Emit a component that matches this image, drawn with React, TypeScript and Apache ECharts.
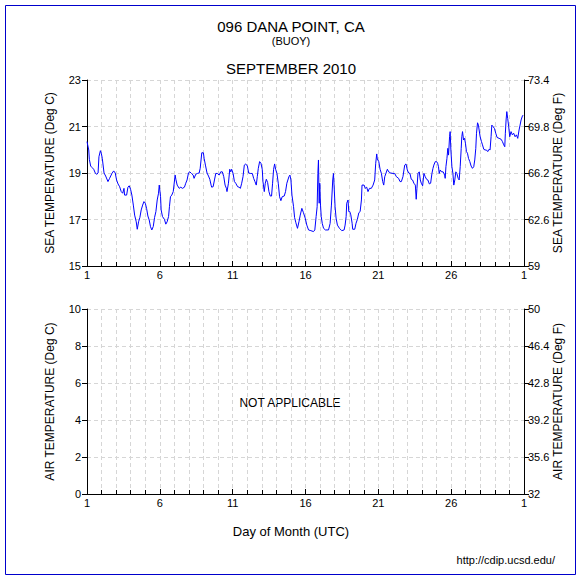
import React, { useEffect, useRef } from "react";
import * as echarts from "echarts";

const stationTitle = "096 DANA POINT, CA";
const stationType = "(BUOY)";
const monthTitle = "SEPTEMBER 2010";

const dayOfMonth = [
  1.0, 1.12, 1.16, 1.25, 1.34, 1.46, 1.57, 1.66, 1.76, 1.82, 1.92, 1.98, 2.05, 2.17, 2.28, 2.44, 2.55, 2.71, 2.83, 2.94,
  3.03, 3.13, 3.24, 3.35, 3.45, 3.54, 3.58, 3.72, 3.81, 3.9, 3.99, 4.08, 4.18, 4.27, 4.38, 4.45, 4.54, 4.63, 4.72, 4.82,
  4.91, 5.0, 5.09, 5.18, 5.27, 5.36, 5.45, 5.55, 5.64, 5.73, 5.82, 5.91, 5.96, 6.05, 6.09, 6.18, 6.32, 6.41, 6.5, 6.6,
  6.66, 6.73, 6.82, 6.92, 7.05, 7.1, 7.19, 7.33, 7.44, 7.55, 7.69, 7.78, 7.87, 7.97, 8.06, 8.17, 8.29, 8.35, 8.47, 8.58,
  8.7, 8.77, 8.83, 8.88, 8.99, 9.04, 9.13, 9.24, 9.34, 9.43, 9.52, 9.56, 9.66, 9.75, 9.84, 9.95, 10.07, 10.18, 10.29, 10.39,
  10.48, 10.57, 10.61, 10.71, 10.8, 10.87, 10.93, 11.03, 11.12, 11.21, 11.34, 11.44, 11.53, 11.62, 11.71, 11.8, 11.89, 12.01, 12.1, 12.23,
  12.35, 12.44, 12.53, 12.62, 12.69, 12.76, 12.85, 12.94, 13.03, 13.08, 13.17, 13.24, 13.31, 13.4, 13.49, 13.58, 13.67, 13.74, 13.81, 13.88,
  13.95, 14.04, 14.13, 14.22, 14.31, 14.4, 14.54, 14.63, 14.72, 14.86, 14.93, 15.0, 15.07, 15.18, 15.25, 15.34, 15.45, 15.55, 15.64, 15.75,
  15.86, 15.98, 16.09, 16.21, 16.37, 16.55, 16.64, 16.73, 16.8, 16.85, 16.89, 16.94, 16.98, 17.03, 17.08, 17.15, 17.24, 17.37, 17.58, 17.69,
  17.78, 17.87, 17.92, 17.96, 18.03, 18.1, 18.19, 18.33, 18.49, 18.65, 18.72, 18.79, 18.83, 18.92, 18.97, 19.04, 19.11, 19.2, 19.24, 19.38,
  19.47, 19.56, 19.66, 19.75, 19.84, 19.88, 20.02, 20.11, 20.2, 20.29, 20.39, 20.52, 20.64, 20.75, 20.82, 20.89, 20.93, 21.03, 21.12, 21.21,
  21.3, 21.37, 21.44, 21.53, 21.62, 21.71, 21.85, 22.01, 22.12, 22.24, 22.39, 22.49, 22.58, 22.69, 22.81, 22.9, 22.99, 23.08, 23.17, 23.26,
  23.35, 23.44, 23.54, 23.6, 23.65, 23.72, 23.81, 23.88, 23.95, 24.04, 24.13, 24.22, 24.31, 24.4, 24.5, 24.59, 24.68, 24.75, 24.81, 24.91,
  25.0, 25.07, 25.13, 25.18, 25.25, 25.34, 25.45, 25.55, 25.59, 25.64, 25.71, 25.77, 25.82, 25.89, 25.93, 25.98, 26.05, 26.12, 26.18, 26.25,
  26.32, 26.39, 26.48, 26.55, 26.62, 26.69, 26.73, 26.78, 26.85, 26.92, 26.98, 27.05, 27.12, 27.19, 27.28, 27.37, 27.46, 27.55, 27.62, 27.69,
  27.74, 27.81, 27.87, 27.92, 27.99, 28.08, 28.15, 28.24, 28.33, 28.42, 28.51, 28.6, 28.67, 28.74, 28.79, 28.88, 28.97, 29.06, 29.15, 29.29,
  29.43, 29.52, 29.61, 29.68, 29.72, 29.77, 29.82, 29.88, 29.95, 30.02, 30.11, 30.2, 30.29, 30.39, 30.48, 30.57, 30.66, 30.73, 30.8, 30.89,
  30.94,
];

const seaTempC = [
  20.35, 19.99, 19.59, 19.3, 19.24, 19.16, 19.0, 18.94, 19.0, 19.7, 19.96, 19.85, 19.63, 19.0, 18.87, 18.63, 18.77, 18.98, 19.09, 19.0,
  18.7, 18.53, 18.41, 18.2, 18.13, 18.34, 18.05, 18.05, 18.39, 18.45, 18.3, 18.05, 17.62, 17.19, 16.9, 16.58, 16.9, 17.09, 17.41, 17.62,
  17.77, 17.7, 17.48, 17.15, 16.98, 16.69, 16.55, 16.7, 17.09, 17.34, 17.84, 18.13, 18.48, 17.98, 17.41, 17.13, 17.0, 16.8, 16.9, 17.13,
  17.55, 17.98, 18.05, 18.2, 18.91, 18.73, 18.48, 18.34, 18.39, 18.34, 18.39, 18.56, 18.7, 19.01, 19.05, 18.98, 18.91, 18.77, 18.95, 18.98,
  19.0, 19.2, 19.56, 19.87, 19.87, 19.63, 19.34, 19.0, 18.87, 18.73, 18.48, 18.39, 18.41, 18.7, 18.98, 18.98, 18.91, 19.05, 19.05, 18.84,
  18.48, 18.34, 18.2, 18.56, 19.16, 19.05, 19.16, 18.98, 18.63, 18.56, 18.41, 18.39, 18.34, 18.56, 18.84, 19.34, 19.39, 19.3, 19.0, 18.98,
  18.98, 18.77, 18.63, 18.48, 18.84, 19.2, 19.49, 19.42, 19.16, 18.63, 18.2, 18.56, 18.73, 18.59, 18.2, 18.01, 18.01, 18.56, 19.16, 19.39,
  19.16, 18.98, 18.56, 17.98, 17.81, 17.98, 18.01, 18.2, 18.56, 18.84, 18.91, 18.7, 18.05, 17.55, 17.09, 16.86, 16.62, 16.9, 17.19, 17.48,
  17.29, 17.06, 16.76, 16.55, 16.52, 16.48, 16.55, 17.13, 17.55, 18.98, 19.56, 17.7, 18.56, 17.62, 17.13, 16.83, 16.62, 16.55, 16.55, 16.83,
  17.62, 18.7, 18.98, 18.48, 17.55, 17.06, 16.76, 16.62, 16.52, 16.55, 16.76, 17.13, 17.7, 17.84, 17.34, 17.34, 17.2, 16.84, 16.58, 16.58,
  16.84, 17.0, 17.29, 17.34, 17.84, 18.48, 18.48, 18.34, 18.39, 18.2, 18.34, 18.34, 18.48, 18.7, 19.42, 19.82, 19.6, 19.49, 19.16, 18.98,
  18.63, 18.48, 18.84, 19.0, 19.16, 19.05, 19.0, 18.98, 18.98, 18.84, 18.77, 18.63, 18.63, 18.84, 19.34, 19.39, 19.13, 19.0, 18.98, 18.73,
  18.7, 18.56, 18.48, 17.87, 18.34, 18.98, 19.05, 18.7, 18.56, 18.45, 18.98, 18.84, 18.73, 18.7, 18.53, 18.56, 18.98, 19.2, 19.34, 19.49,
  19.49, 19.42, 19.27, 18.98, 19.13, 19.05, 19.05, 18.91, 18.77, 19.27, 19.63, 20.06, 19.77, 20.56, 20.78, 19.99, 19.27, 18.98, 18.48, 18.7,
  19.05, 18.98, 18.77, 18.7, 19.27, 20.06, 20.56, 20.78, 20.42, 20.49, 20.28, 19.92, 19.85, 19.63, 19.49, 19.3, 19.2, 19.27, 19.56, 20.06,
  20.71, 21.16, 21.06, 20.85, 20.56, 20.35, 20.21, 20.02, 19.99, 19.99, 19.92, 20.02, 19.99, 20.56, 21.06, 20.99, 20.92, 20.71, 20.53, 20.49,
  20.45, 20.35, 20.21, 20.13, 20.71, 21.28, 21.64, 21.35, 20.99, 20.56, 20.78, 20.64, 20.71, 20.56, 20.64, 20.49, 20.85, 21.06, 21.28, 21.45,
  21.49,
];

const seaTicksC = { min: 15, max: 23, step: 2 };
const airTicksC = { min: 0, max: 10, step: 2 };
const dayTicks = { min: 1, max: 31, step: 5 };

const FONT = "'Liberation Sans', Arial, Helvetica, sans-serif";
const GRID_COLOR = "#d6d6d6";

function toF(v: number): string {
  const f = v * 1.8 + 32;
  return String(Math.round(f * 10) / 10);
}

function dayLabel(v: number): string {
  return v === 31 ? "1" : String(v);
}

export default function App() {
  const ref = useRef<HTMLDivElement>(null);

  useEffect(() => {
    document.body.style.margin = "0";
    if (!ref.current) return;
    const chart = echarts.init(ref.current, undefined, { renderer: "svg" });

    const xAxisBase = (gridIndex: number) => ({
      type: "value",
      gridIndex,
      min: dayTicks.min,
      max: dayTicks.max,
      interval: dayTicks.step,
      axisLine: { show: true, onZero: false, lineStyle: { color: "#000", width: 1 } },
      axisTick: { show: true, inside: true, length: 5, lineStyle: { color: "#000" } },
      minorTick: { show: true, splitNumber: 5, length: 4, lineStyle: { color: "#000" } },
      splitLine: { show: true, lineStyle: { color: GRID_COLOR, type: [4, 3], width: 1 } },
      minorSplitLine: { show: true, lineStyle: { color: GRID_COLOR, type: [4, 3], width: 1 } },
      axisLabel: { color: "#000", fontSize: 11, margin: 3, formatter: dayLabel, fontFamily: FONT },
    });

    const yLeft = (gridIndex: number, t: { min: number; max: number; step: number }, name: string) => ({
      type: "value",
      gridIndex,
      position: "left",
      min: t.min,
      max: t.max,
      interval: t.step,
      name,
      nameLocation: "middle",
      nameRotate: 90,
      nameGap: 31,
      nameMoveOverlap: false,
      nameTextStyle: { color: "#000", fontSize: 12, fontFamily: FONT },
      axisLine: { show: true, lineStyle: { color: "#000", width: 1 } },
      axisTick: { show: true, inside: false, length: 5, lineStyle: { color: "#000" } },
      splitLine: { show: true, lineStyle: { color: GRID_COLOR, type: [4, 3], width: 1 } },
      axisLabel: { color: "#000", fontSize: 11, margin: 6, fontFamily: FONT },
    });

    const yRight = (gridIndex: number, t: { min: number; max: number; step: number }, name: string) => ({
      type: "value",
      gridIndex,
      position: "right",
      min: t.min,
      max: t.max,
      interval: t.step,
      name,
      nameLocation: "middle",
      nameRotate: 90,
      nameGap: 28,
      nameMoveOverlap: false,
      nameTextStyle: { color: "#000", fontSize: 12, fontFamily: FONT },
      axisLine: { show: true, lineStyle: { color: "#000", width: 1 } },
      axisTick: { show: true, inside: false, length: 5, lineStyle: { color: "#000" } },
      splitLine: { show: false },
      axisLabel: { color: "#000", fontSize: 11, margin: 4, formatter: toF, fontFamily: FONT },
    });

    const seaData = dayOfMonth.map((d, i) => [d, seaTempC[i]]);

    chart.setOption({
      animation: false,
      backgroundColor: "#fff",
      textStyle: { fontFamily: FONT },
      grid: [
        { left: 87, right: 58, top: 80, height: 186 },
        { left: 87, right: 58, top: 309, height: 185 },
      ],
      xAxis: [xAxisBase(0), xAxisBase(1)],
      yAxis: [
        yLeft(0, seaTicksC, "SEA TEMPERATURE (Deg C)"),
        yRight(0, seaTicksC, "SEA TEMPERATURE (Deg F)"),
        yLeft(1, airTicksC, "AIR TEMPERATURE (Deg C)"),
        yRight(1, airTicksC, "AIR TEMPERATURE (Deg F)"),
      ],
      series: [
        {
          type: "line",
          xAxisIndex: 0,
          yAxisIndex: 0,
          data: seaData,
          showSymbol: false,
          symbol: "none",
          lineStyle: { color: "#0000ff", width: 1 },
          silent: true,
        },
        {
          type: "line",
          xAxisIndex: 1,
          yAxisIndex: 2,
          data: [],
          showSymbol: false,
        },
      ],
      graphic: [
        {
          type: "rect",
          shape: { x: 5.5, y: 5.5, width: 570, height: 569 },
          style: { fill: "none", stroke: "#0000cc", lineWidth: 1 },
          silent: true,
        },
        {
          type: "text",
          x: 291,
          y: 26,
          style: { text: stationTitle, fill: "#000", font: `15px ${FONT}`, textAlign: "center", textVerticalAlign: "middle" },
        },
        {
          type: "text",
          x: 291,
          y: 41,
          style: { text: stationType, fill: "#000", font: `11px ${FONT}`, textAlign: "center", textVerticalAlign: "middle" },
        },
        {
          type: "text",
          x: 291,
          y: 68,
          style: { text: monthTitle, fill: "#000", font: `15px ${FONT}`, textAlign: "center", textVerticalAlign: "middle" },
        },
        {
          type: "text",
          x: 290,
          y: 403,
          style: { text: "NOT APPLICABLE", fill: "#000", font: `12px ${FONT}`, textAlign: "center", textVerticalAlign: "middle" },
        },
        {
          type: "text",
          x: 291,
          y: 531,
          style: { text: "Day of Month (UTC)", fill: "#000", font: `13px ${FONT}`, textAlign: "center", textVerticalAlign: "middle" },
        },
        {
          type: "text",
          x: 555,
          y: 560,
          style: { text: "http://cdip.ucsd.edu/", fill: "#000", font: `11px ${FONT}`, textAlign: "right", textVerticalAlign: "middle" },
        },
      ],
    });

    return () => chart.dispose();
  }, []);

  return <div ref={ref} style={{ width: 582, height: 581 }} />;
}
